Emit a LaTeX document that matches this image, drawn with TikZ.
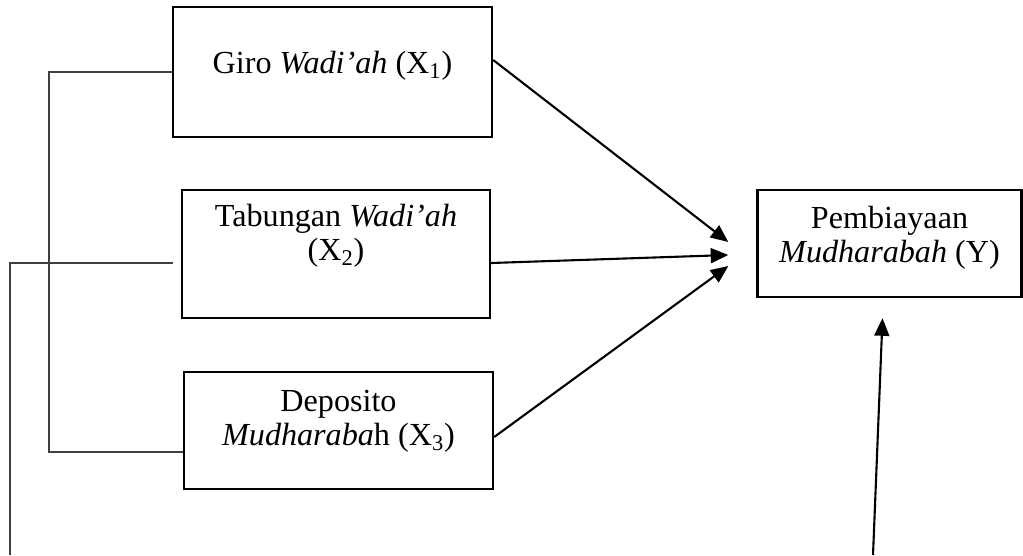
\documentclass[tikz,border=0pt]{standalone}
\usepackage{fontspec}
\setmainfont{Liberation Serif}
\usepackage{tikz}
\usetikzlibrary{arrows.meta,positioning,calc}
\tikzset{
  every node/.append style={font=\fontsize{18.3}{19.4}\selectfont},
}
\tikzset{
  box/.style={draw, line width=1.4pt, inner sep=0pt},
  txt/.style={align=center, inner sep=0pt},
  arrow/.style={-{Triangle[length=10pt,width=8.5pt]}, line width=1.2pt},
  link/.style={draw=black!75, line width=0.8pt}
}

\begin{document}
\begin{tikzpicture}[x=0.02cm, y=-0.02cm]

% --- Frame (pixel grid of the sketch) ---
\useasboundingbox (0,0) rectangle (1023,555);

% --- Boxes ---
\node[box, minimum width=6.38cm, minimum height=2.6cm] (giro) at (332.5,72) {};
\node[txt] (giroT) at ($(giro.center)+(0,-6)$) {Giro \textit{Wadi’ah} (X\textsubscript{1})};

\node[box, minimum width=6.16cm, minimum height=2.56cm] (tab) at (336,254) {};
\node[txt] (tabT) at ($(tab.center)+(0,-18)$) {Tabungan \textit{Wadi’ah}\\(X\textsubscript{2})};

\node[box, minimum width=6.18cm, minimum height=2.34cm] (dep) at (338.5,430.5) {};
\node[txt] (depT) at ($(dep.center)+(0,-9)$) {Deposito\\\textit{Mudharaba}h (X\textsubscript{3})};

\node[box, minimum width=5.28cm, minimum height=2.14cm] (pemb) at (889.5,243.5) {};
\node[txt] (pembT) at ($(pemb.center)+(0,-6)$) {Pembiayaan\\\textit{Mudharabah} (Y)};

% --- Free ends ---
\coordinate (tipA) at ($(pemb.west)+(-28,-1.5)$);
\coordinate (tipB) at ($(pemb.west)+(-28,11.5)$);
\coordinate (tipC) at ($(pemb.west)+(-28,22.5)$);
\coordinate (tipD) at ($(pemb.south)+(-7,20)$);
\coordinate (footD) at (873,555);
\coordinate (tabIn) at ($(tab.west)+(-8,9)$);
\coordinate (footL) at (10,555);

% --- Left brackets ---
\draw[link] (giro.west) -- ++(-123,0) |- ($(dep.west)+(0,21.5)$);
\draw[link] (tabIn) -| (footL);

% --- Arrows into Y ---
\draw[arrow] ($(giro.east)+(0,-12)$) -- (tipA);
\draw[arrow] ($(tab.east)+(0,9)$) -- (tipB);
\draw[arrow] ($(dep.east)+(0,6.5)$) -- (tipC);
\draw[arrow] (footD) -- (tipD);

\end{tikzpicture}
\end{document}
